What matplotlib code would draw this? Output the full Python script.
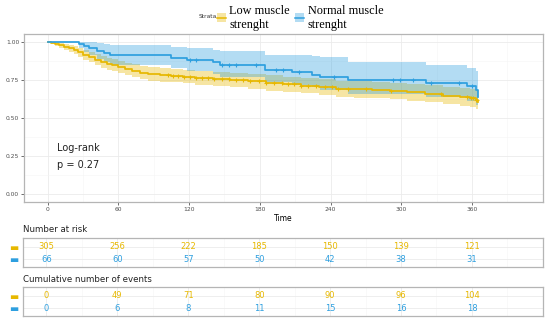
import numpy as np
import matplotlib
matplotlib.use("Agg")
import matplotlib.pyplot as plt
from matplotlib.patches import Patch
from matplotlib.lines import Line2D

# colours of the two strata
yel = "#E7B800"
blu = "#2E9FDF"

# Low muscle strenght: step times and survival, with the confidence band
low_t = [0, 3, 6, 10, 14, 18, 22, 26, 30, 35, 40, 45, 50, 55, 60, 66, 72, 78, 85, 95,
         105, 115, 125, 140, 155, 170, 185, 200, 215, 230, 245, 260, 275, 290, 305, 320,
         335, 350, 358, 363, 365]
low_s = [1.0, 0.993, 0.985, 0.977, 0.968, 0.958, 0.945, 0.93, 0.913, 0.897, 0.882, 0.867,
         0.855, 0.845, 0.835, 0.822, 0.809, 0.795, 0.787, 0.782, 0.777, 0.771, 0.763, 0.756,
         0.748, 0.74, 0.728, 0.72, 0.711, 0.703, 0.69, 0.686, 0.681, 0.676, 0.667, 0.657,
         0.645, 0.635, 0.628, 0.62, 0.605]
low_hi = [1.0, 1.0, 0.997, 0.993, 0.987, 0.98, 0.97, 0.958, 0.944, 0.93, 0.917, 0.904,
          0.893, 0.884, 0.875, 0.863, 0.851, 0.839, 0.831, 0.827, 0.822, 0.817, 0.81, 0.803,
          0.796, 0.789, 0.778, 0.77, 0.762, 0.755, 0.743, 0.739, 0.735, 0.73, 0.722, 0.713,
          0.702, 0.693, 0.687, 0.68, 0.667]
low_lo = [1.0, 0.984, 0.972, 0.96, 0.948, 0.935, 0.92, 0.902, 0.882, 0.864, 0.847, 0.83,
          0.817, 0.806, 0.795, 0.781, 0.767, 0.752, 0.743, 0.738, 0.732, 0.726, 0.717, 0.709,
          0.7, 0.691, 0.678, 0.67, 0.66, 0.651, 0.637, 0.632, 0.627, 0.621, 0.612, 0.601,
          0.588, 0.577, 0.57, 0.561, 0.545]
low_cens = [102, 106, 111, 116, 121, 126, 131, 136, 141, 148, 154, 160, 166, 172, 179,
            185, 192, 199, 204, 209, 215, 221, 228, 235, 241, 246, 255, 270, 291, 334, 356,
            359, 361, 363, 364]

# Normal muscle strenght
nor_t = [0, 27, 31, 35, 42, 48, 53, 105, 118, 140, 146, 184, 207, 224, 231, 255, 321, 356, 363, 365]
nor_s = [1.0, 0.985, 0.97, 0.955, 0.94, 0.925, 0.909, 0.894, 0.879, 0.864, 0.848, 0.817,
         0.80, 0.784, 0.765, 0.747, 0.726, 0.706, 0.68, 0.636]
nor_hi = [1.0, 1.0, 1.0, 0.995, 0.99, 0.985, 0.978, 0.965, 0.955, 0.945, 0.94, 0.915,
          0.912, 0.908, 0.90, 0.868, 0.845, 0.83, 0.81, 0.81]
nor_lo = [1.0, 0.955, 0.93, 0.91, 0.885, 0.865, 0.845, 0.825, 0.805, 0.785, 0.77, 0.735,
          0.715, 0.70, 0.68, 0.655, 0.635, 0.61, 0.585, 0.555]
nor_cens = [121, 126, 148, 154, 160, 177, 194, 200, 213, 243, 293, 299, 310, 325, 349, 360]

# risk table
tab_times = [0, 60, 120, 180, 240, 300, 360]
risk_low = [305, 256, 222, 185, 150, 139, 121]
risk_nor = [66, 60, 57, 50, 42, 38, 31]
events_low = [0, 49, 71, 80, 90, 96, 104]
events_nor = [0, 6, 8, 11, 15, 16, 18]

grid_major = "#EBEBEB"
grid_minor = "#F5F5F5"
border = "#B5B5B5"


def step_at(ts, ss, x):
    idx = np.searchsorted(ts, x, side="right") - 1
    return np.array(ss)[idx]


fig = plt.figure(figsize=(5.5, 3.26), dpi=100)
ax = fig.add_axes([0.0436, 0.3813, 0.9434, 0.5144])

for t, s, hi, lo, cens, col in [(low_t, low_s, low_hi, low_lo, low_cens, yel),
                                 (nor_t, nor_s, nor_hi, nor_lo, nor_cens, blu)]:
    ax.fill_between(t, lo, hi, step="post", color=col, alpha=0.36, lw=0)
    ax.step(t, s, where="post", color=col, lw=1.25)
    ax.plot(cens, step_at(t, s, cens), "+", color=col, ms=3.5, mew=0.8)

ax.set_xlim(-20, 420)
ax.set_ylim(-0.05, 1.05)
ax.set_xticks(tab_times)
ax.set_xticks([30, 90, 150, 210, 270, 330, 390], minor=True)
ax.set_yticks([0, 0.25, 0.5, 0.75, 1.0], ["0.00", "0.25", "0.50", "0.75", "1.00"])
ax.set_yticks([0.125, 0.375, 0.625, 0.875], minor=True)
ax.grid(True, which="major", color=grid_major, lw=0.6)
ax.grid(True, which="minor", color=grid_minor, lw=0.4)
ax.set_axisbelow(True)
ax.tick_params(which="major", labelsize=4.3, labelcolor="#4D4D4D", color="#333333",
               length=2, width=0.5, pad=1.5)
ax.tick_params(which="minor", length=0)
for sp in ax.spines.values():
    sp.set_color(border)
    sp.set_linewidth(0.9)
ax.set_xlabel("Time", fontsize=5.5, labelpad=1.5)

ax.text(8, 0.30, "Log-rank", fontsize=7, va="center", color="#222222")
ax.text(8, 0.19, "p = 0.27", fontsize=7, va="center", color="#222222")

# legend on top
handles = [(Patch(facecolor=yel, alpha=0.36, lw=0), Line2D([], [], color=yel, lw=1.1)),
           (Patch(facecolor=blu, alpha=0.36, lw=0), Line2D([], [], color=blu, lw=1.1))]
fig.legend(handles, ["Low muscle\nstrenght", "Normal muscle\nstrenght"], ncol=2,
           loc="center left", bbox_to_anchor=(0.3945, 0.946), frameon=False,
           prop={"family": "Liberation Serif", "size": 8.8}, handlelength=0.7,
           handleheight=0.75, handletextpad=0.3, columnspacing=0.45, borderpad=0,
           borderaxespad=0, labelspacing=0)
fig.text(0.378, 0.95, "Strata", fontsize=4.3, ha="center", va="center", color="#333333")


def risk_table(rect, title, title_y, vals_low, vals_nor):
    tax = fig.add_axes(rect)
    tax.set_xlim(-20, 420)
    tax.set_ylim(0.37, 2.70)
    for x, v in zip(tab_times, vals_low):
        tax.text(x, 2, str(v), color=yel, fontsize=6, ha="center", va="center")
    for x, v in zip(tab_times, vals_nor):
        tax.text(x, 1, str(v), color=blu, fontsize=6, ha="center", va="center")
    tax.set_xticks(tab_times, [""] * len(tab_times))
    tax.set_xticks([30, 90, 150, 210, 270, 330, 390], minor=True)
    tax.set_yticks([1, 2], ["▬", "▬"])
    for lab, col in zip(tax.get_yticklabels(), [blu, yel]):
        lab.set_color(col)
    tax.tick_params(axis="y", length=0, labelsize=7, pad=3)
    tax.tick_params(axis="x", which="both", length=0)
    tax.grid(True, which="major", color=grid_major, lw=0.6)
    tax.grid(True, which="minor", color=grid_minor, lw=0.4)
    tax.set_axisbelow(True)
    for sp in tax.spines.values():
        sp.set_color(border)
        sp.set_linewidth(0.9)
    fig.text(rect[0] + 0.001, title_y, title, fontsize=6.2, va="center", color="#222222")


risk_table([0.0415, 0.180, 0.9455, 0.0908], "Number at risk", 0.2945, risk_low, risk_nor)
risk_table([0.0415, 0.0316, 0.9455, 0.0871], "Cumulative number of events", 0.144,
           events_low, events_nor)

fig.savefig("out.png", dpi=100)
